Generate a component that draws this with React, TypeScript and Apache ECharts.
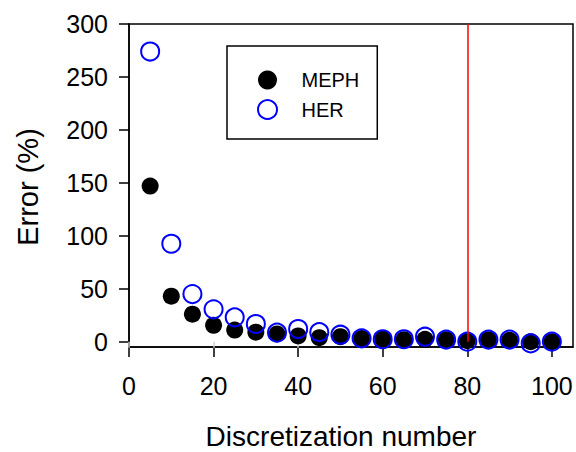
import React, { useEffect, useRef } from "react";
import * as echarts from "echarts";

const xValues = [5, 10, 15, 20, 25, 30, 35, 40, 45, 50, 55, 60, 65, 70, 75, 80, 85, 90, 95, 100];
const mephValues = [147, 43, 26, 15.5, 11, 9, 7.3, 5.4, 3.8, 4.7, 3, 2.5, 1.9, 2.3, 1.9, 0.9, 1.9, 1.3, 0, 0];
const herValues = [274, 92.5, 45, 30.6, 23, 16.7, 8.5, 12, 9, 6.6, 3.2, 2.3, 2.3, 4.7, 1.9, 0, 1.9, 1.9, -1.6, 0];
const xTicks = [0, 20, 40, 60, 80, 100];
const yTicks = [0, 50, 100, 150, 200, 250, 300];
const markerX = 80;

const FONT = "'Liberation Sans', Arial, sans-serif";

export default function App() {
  const ref = useRef<HTMLDivElement>(null);
  useEffect(() => {
    if (!ref.current) return;
    const chart = echarts.init(ref.current, null, { renderer: "svg" });
    const meph = xValues.map((x, i) => [x, mephValues[i]]);
    const her = xValues.map((x, i) => [x, herValues[i]]);
    chart.setOption({
      animation: false,
      backgroundColor: "#ffffff",
      grid: {
        left: 129,
        right: 3,
        top: 24,
        bottom: 105,
        show: true,
        borderColor: "#000",
        borderWidth: 1.5,
        backgroundColor: "transparent",
      },
      legend: {
        orient: "vertical",
        left: 227,
        top: 46,
        data: ["MEPH", "HER"],
        itemWidth: 58,
        itemHeight: 19,
        itemGap: 9,
        padding: [24, 18, 19, 30],
        borderColor: "#000",
        borderWidth: 1.5,
        borderRadius: 0,
        textStyle: { fontSize: 20, fontFamily: FONT, color: "#000", lineHeight: 19, padding: [0, 0, 0, 0] },
      },
      xAxis: [
        {
          type: "value",
          min: 0,
          max: 105,
          axisLine: { show: true, onZero: false, lineStyle: { color: "#000", width: 1.5 } },
          axisTick: { show: true, inside: false, length: 10, customValues: xTicks, lineStyle: { color: "#000", width: 1.5 } },
          axisLabel: { customValues: xTicks, fontSize: 25, fontFamily: FONT, color: "#000", margin: 26 },
          splitLine: { show: false },
        },
        {
          type: "value",
          position: "top",
          min: 0,
          max: 105,
          axisLine: { show: false },
          axisTick: { show: true, inside: true, length: 6, customValues: xTicks, lineStyle: { color: "#cfcfcf", width: 1.5 } },
          axisLabel: { show: false },
          splitLine: { show: false },
        },
      ],
      yAxis: {
        type: "value",
        min: -5,
        max: 300,
        axisLine: { show: true, onZero: false, lineStyle: { color: "#000", width: 1.5 } },
        axisTick: { show: true, inside: false, length: 10, customValues: yTicks, lineStyle: { color: "#000", width: 1.5 } },
        axisLabel: { customValues: yTicks, fontSize: 25, fontFamily: FONT, color: "#000", margin: 21 },
        splitLine: { show: false },
      },
      graphic: [
        {
          type: "text",
          x: 28,
          y: 187,
          rotation: Math.PI / 2,
          style: {
            text: "Error (%)",
            fontSize: 29,
            fontFamily: FONT,
            fill: "#000",
            align: "center",
            verticalAlign: "middle",
          },
        },
        {
          type: "text",
          x: 341,
          y: 436,
          style: {
            text: "Discretization number",
            fontSize: 28,
            fontFamily: FONT,
            fill: "#000",
            align: "center",
            verticalAlign: "middle",
          },
        },
      ],
      series: [
        {
          name: "MEPH",
          type: "scatter",
          data: meph,
          symbol: "circle",
          symbolSize: 17,
          itemStyle: { color: "#000", opacity: 1 },
        },
        {
          name: "HER",
          type: "scatter",
          data: her,
          symbol: "circle",
          symbolSize: 18,
          itemStyle: { color: "rgba(0,0,0,0)", borderColor: "#0000ff", borderWidth: 2, opacity: 1 },
          markLine: {
            silent: true,
            symbol: "none",
            label: { show: false },
            lineStyle: { color: "#ff0000", width: 1.5, type: "solid" },
            data: [[{ coord: [markerX, 0] }, { coord: [markerX, 300] }]],
          },
        },
      ],
    });
    return () => chart.dispose();
  }, []);
  return (
    <div
      ref={ref}
      style={{ position: "absolute", left: 0, top: 0, width: 576, height: 452 }}
    />
  );
}
